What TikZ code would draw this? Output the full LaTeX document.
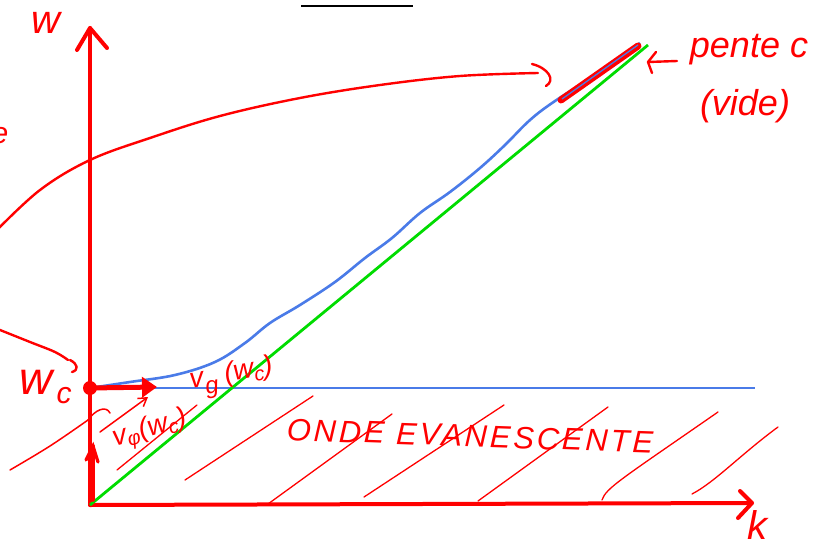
\documentclass[tikz,border=0pt]{standalone}
\usepackage{fontspec}
\setmainfont{Liberation Sans}
\usetikzlibrary{arrows.meta}
\definecolor{inkred}{RGB}{255,0,0}
\definecolor{inkblue}{RGB}{74,123,232}
\definecolor{inkgreen}{RGB}{0,220,0}
\begin{document}
\begin{tikzpicture}[x=1pt,y=-1pt,
  axis/.style={inkred, line width=4pt, line cap=round, line join=round},
  ink/.style={inkred, line width=2.4pt, line cap=round, line join=round},
  hatch/.style={inkred, line width=1.3pt, line cap=round},
  hand/.style={text=inkred, inner sep=0pt, font=\fontsize{#1}{#1}\selectfont\itshape},
  hand/.default=26]
\clip (0,0) rectangle (813,548);
\fill[white] (0,0) rectangle (813,548);
% top clipped page line
\draw[black, line width=1.6pt] (301,6) -- (413,6);
% axes
\coordinate (O) at (90,505);
\coordinate (Wtop) at (90,28);
\coordinate (Kend) at (752,503);
\draw[axis] (O) -- (Wtop);
\draw[axis] (77,50) -- (Wtop) -- (107,48);
\draw[axis] (O) -- (Kend);
\draw[axis] (740,491) -- (Kend) -- (738,518);
\node[hand=40, anchor=base] (wlab) at (46,34) {w};
\node[hand=40] (klab) at (757,525) {k};
% cutoff line
\coordinate (C) at (90,388);
\coordinate (Cend) at (755,388);
\draw[inkblue, line width=2.8pt] (C) -- (Cend);
% light line
\coordinate (Gend) at (648,45);
\draw[inkgreen, line width=2.8pt] (O) -- (Gend);
% dispersion curve
\draw[inkblue, line width=2.6pt] plot[smooth, tension=0.6] coordinates {(90,388) (130,382) (175,375) (215,362) (245,343) (270,323) (300,305) (335,282) (365,258) (392,238) (420,213) (450,192) (480,168) (505,145) (530,120) (555,101) (600,72) (640,43)};
\draw[inkred, line width=7pt, line cap=round] (561,100) -- (638,46);
\draw[inkblue, line width=1.3pt] (562,99) -- (638,45);
% pente c
\draw[ink] (677,61) -- (648,62);
\draw[ink] (656,52) -- (648,62) -- (652,73);
\node[hand=36] (pente) at (749,50) {pente c};
\node[hand=36] (vide) at (745,106) {(vide)};
% big curve from left
\draw[ink] plot[smooth, tension=0.6] coordinates {(-5,232) (40,190) (90,160) (150,138) (220,116) (300,98) (380,85) (460,76) (538,73)};
\draw[ink] (532,64) .. controls (548,68) and (556,80) .. (546,86);
\node[hand=30] (efrag) at (0,136) {e};
% curve to w_c
\draw[ink] plot[smooth, tension=0.6] coordinates {(-5,328) (30,342) (55,352) (68,360)};
\draw[ink] (70,360) .. controls (78,364) and (79,370) .. (72,372);
\node[hand=46] (wc) at (36,382) {w};
\node[hand=30] (wcsub) at (64,396) {c};
% point and group velocity arrow
\fill[inkred] (C) circle (7pt);
\coordinate (Vg) at (157,387);
\draw[inkred, line width=5pt, -{Triangle[length=15pt,width=20pt]}] (C) -- (Vg);
\node[hand=28, rotate=10] (vglab) at (232,378) {v\raisebox{-9pt}{\fontsize{24}{24}\selectfont g} (w\raisebox{-4pt}{\fontsize{20}{20}\selectfont c})};
% phase velocity
\draw[ink, line width=1.5pt] plot[smooth, tension=0.6] coordinates {(10,470) (50,446) (88,420)};
\draw[ink, line width=1.5pt] (88,420) .. controls (95,410) and (106,405) .. (110,413);
\coordinate (Vp0) at (100,432);
\coordinate (Vp1) at (148,397);
\draw[ink, line width=1.5pt, -{Straight Barb[length=8pt,width=10pt]}] (Vp0) -- (Vp1);
\node[hand=28, rotate=16] (vplab) at (150,430) {v\raisebox{-4pt}{\fontsize{20}{20}\selectfont φ}(w\raisebox{-4pt}{\fontsize{20}{20}\selectfont c})};
\coordinate (Up0) at (93,500);
\coordinate (Up1) at (93,446);
\draw[inkred, line width=3.6pt, line cap=round] (Up0) -- (Up1);
\draw[inkred, line width=3.2pt, line cap=round] (86,460) -- (Up1) -- (98,462);
% hatching
\draw[hatch] (117,470) -- (197,405);
\draw[hatch] (185,480) -- (313,396);
\draw[hatch] (268,504) -- (392,414);
\draw[hatch] (364,497) -- (504,405);
\draw[hatch] (478,501) -- (608,407);
\draw[hatch] (602,500) .. controls (606,488) and (620,480) .. (718,412);
\draw[hatch] (692,494) .. controls (715,482) and (740,455) .. (778,427);
\node[hand=31, rotate=-2] (onde) at (470,436) {\addfontfeatures{LetterSpace=9}ONDE EVANESCENTE};
\end{tikzpicture}
\end{document}
